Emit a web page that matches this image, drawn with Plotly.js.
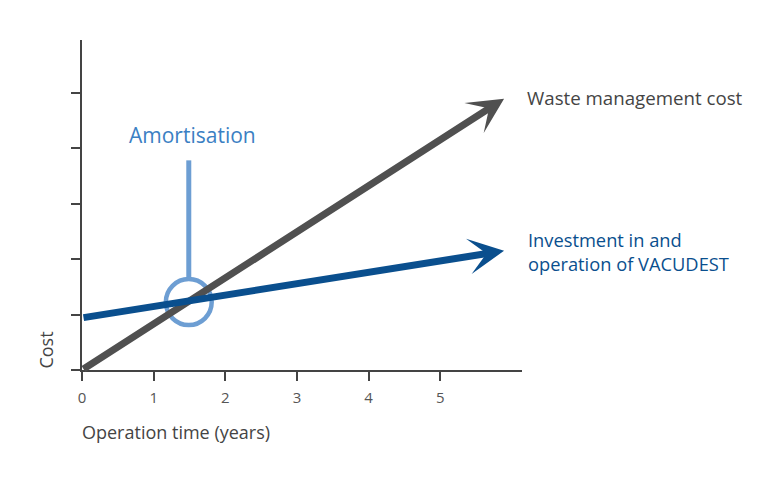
<!DOCTYPE html>
<html>
<head>
<meta charset="utf-8">
<script src="https://cdn.plot.ly/plotly-3.0.1.min.js"></script>
<style>html,body{margin:0;padding:0;background:#fff;}#chart{width:768px;height:479px;}</style>
</head>
<body>
<div id="chart"></div>
<script>
// ---- data ----
const years = [0, 5.89];                 // start and end of the arrows (operation time)
const wasteCost = [0, 4.89];             // waste management cost
const vacudestCost = [0.94, 2.15];       // investment in and operation of VACUDEST
const xTicks = [0, 1, 2, 3, 4, 5];
const xTickLabels = ['0', '1', '2', '3', '4', '5'];
const yTicks = [0, 1, 2, 3, 4, 5];
const amortYear = 1.49;                  // break-even point
const amortCost = 1.225;
const labels = {
  waste: 'Waste management cost',
  vacudest: 'Investment in and<br>operation of VACUDEST',
  amort: 'Amortisation',
  xTitle: 'Operation time (years)',
  yTitle: 'Cost'
};

// ---- styles ----
const GREY = '#505050';
const BLUE = '#0a4f8e';
const LIGHT = '#6d9ed3';
const AXIS = '#444444';
const FONT = 'Open Sans, sans-serif';

const rx = 0.32, ry = 0.414;  // circle radii in data units

const data = [{
  x: years, y: wasteCost, type: 'scatter', mode: 'lines',
  line: {color: 'rgba(0,0,0,0)', width: 0}, hoverinfo: 'skip', showlegend: false
}];

function arrow(xs, ys, color) {
  return {
    x: xs[1], y: ys[1], ax: xs[0], ay: ys[0],
    xref: 'x', yref: 'y', axref: 'x', ayref: 'y',
    text: '', showarrow: true, arrowhead: 3, arrowsize: 0.85,
    arrowwidth: 7, arrowcolor: color, standoff: 0, startstandoff: 0
  };
}

const layout = {
  width: 768, height: 479,
  margin: {l: 82, r: 246, t: 40, b: 108.5, pad: 0},
  paper_bgcolor: '#fff', plot_bgcolor: '#fff',
  showlegend: false,
  font: {family: FONT, color: '#555'},
  xaxis: {
    range: [0, 6.14], fixedrange: true,
    showgrid: false, zeroline: false,
    showline: true, linecolor: AXIS, linewidth: 2,
    ticks: 'outside', ticklen: 9, tickwidth: 2, tickcolor: AXIS,
    tickvals: xTicks, ticktext: xTickLabels,
    tickfont: {family: FONT, size: 15, color: '#555'},
    ticklabelstandoff: 4
  },
  yaxis: {
    range: [0, 5.95], fixedrange: true,
    showgrid: false, zeroline: false,
    showline: true, linecolor: AXIS, linewidth: 2,
    ticks: 'outside', ticklen: 9, tickwidth: 2, tickcolor: AXIS,
    tickvals: yTicks, showticklabels: false
  },
  shapes: [
    {type: 'line', xref: 'x', yref: 'y', x0: amortYear, x1: amortYear,
     y0: amortCost + ry + 0.02, y1: 3.78, line: {color: LIGHT, width: 5}, layer: 'above'},
    {type: 'circle', xref: 'x', yref: 'y',
     x0: amortYear - rx, x1: amortYear + rx, y0: amortCost - ry, y1: amortCost + ry,
     line: {color: LIGHT, width: 4.5}, fillcolor: 'rgba(0,0,0,0)', layer: 'above'}
  ],
  annotations: [
    arrow(years, wasteCost, GREY),
    arrow(years, vacudestCost, BLUE),
    {x: amortYear, y: 4.23, xref: 'x', yref: 'y', text: labels.amort, showarrow: false,
     xanchor: 'center', yanchor: 'middle', xshift: 4,
     font: {family: FONT, size: 21, color: '#3b80c3'}},
    {x: 1.006, y: 0.8266, xref: 'paper', yref: 'paper', text: labels.waste, showarrow: false,
     xanchor: 'left', yanchor: 'middle', align: 'left',
     font: {family: FONT, size: 18.7, color: '#444'}},
    {x: 1.008, y: 0.3595, xref: 'paper', yref: 'paper', text: labels.vacudest, showarrow: false,
     xanchor: 'left', yanchor: 'middle', align: 'left',
     font: {family: FONT, size: 18.3, color: BLUE}},
    {x: -0.0045, y: -0.189, xref: 'paper', yref: 'paper', text: labels.xTitle, showarrow: false,
     xanchor: 'left', yanchor: 'middle',
     font: {family: FONT, size: 18, color: '#444'}},
    {x: -0.084, y: 0.059, xref: 'paper', yref: 'paper', text: labels.yTitle, showarrow: false,
     textangle: -90, xanchor: 'center', yanchor: 'middle',
     font: {family: FONT, size: 18, color: '#444'}}
  ]
};

Plotly.newPlot('chart', data, layout, {staticPlot: true, displayModeBar: false});
</script>
</body>
</html>
